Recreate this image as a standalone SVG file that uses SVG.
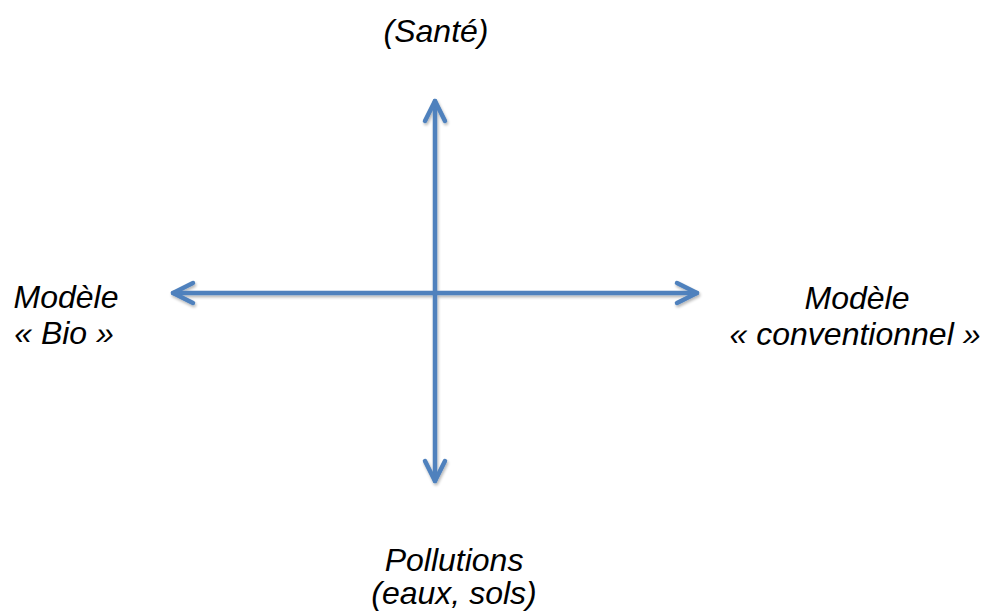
<svg xmlns="http://www.w3.org/2000/svg" width="982" height="612" viewBox="0 0 982 612">
<defs>
<style>
.lbl{font-family:"Liberation Sans",Arial,sans-serif;font-style:italic;font-size:32px;fill:#000;text-anchor:middle}
.ax{stroke:#4F81BD;stroke-width:4.5;fill:none;stroke-linecap:round;stroke-linejoin:round}
</style>
<filter id="sh" x="-10%" y="-10%" width="120%" height="120%">
<feGaussianBlur in="SourceAlpha" stdDeviation="1.5"/>
<feOffset dx="1" dy="2" result="b"/>
<feComponentTransfer><feFuncA type="linear" slope="0.3"/></feComponentTransfer>
<feMerge><feMergeNode/><feMergeNode in="SourceGraphic"/></feMerge>
</filter>
</defs>
<rect width="982" height="612" fill="#fff"/>
<g id="connectors" filter="url(#sh)">
<path class="ax" d="M435 101 V481"/>
<path class="ax" d="M425 121 L435 101 L445 121"/>
<path class="ax" d="M425 461 L435 481 L445 461"/>
<path class="ax" d="M173 293 H697"/>
<path class="ax" d="M193 283 L173 293 L193 303"/>
<path class="ax" d="M677 283 L697 293 L677 303"/>
</g>
<g id="sante"><text class="lbl" x="436" y="42">(Santé)</text></g>
<g id="bio"><text class="lbl" x="66" y="308">Modèle</text><text class="lbl" x="64" y="344">« Bio »</text></g>
<g id="conventionnel"><text class="lbl" x="857" y="309">Modèle</text><text class="lbl" x="855" y="345">« conventionnel »</text></g>
<g id="pollutions"><text class="lbl" x="454" y="571">Pollutions</text><text class="lbl" x="454" y="604">(eaux, sols)</text></g>
</svg>
